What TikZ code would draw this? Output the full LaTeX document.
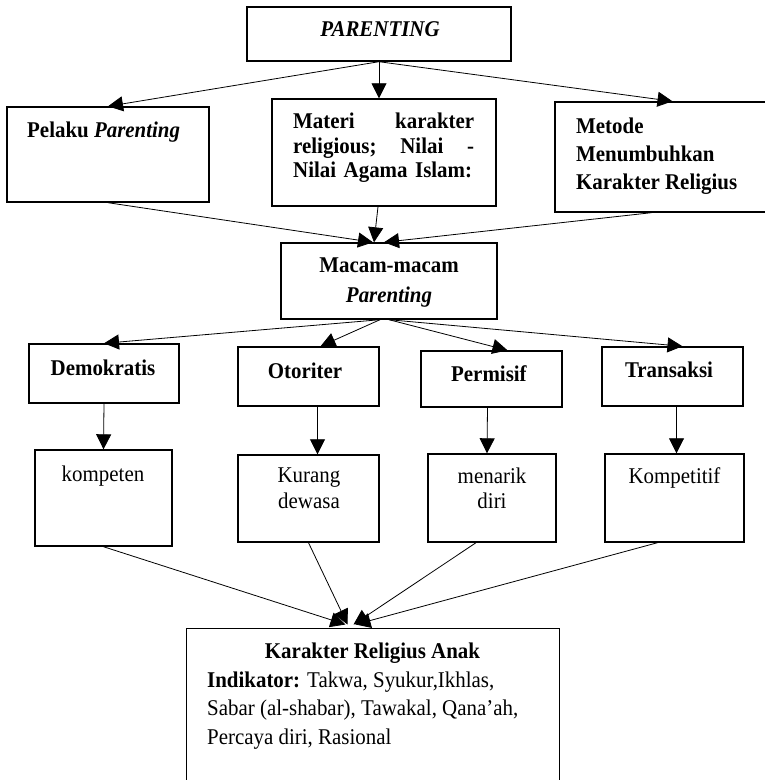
\documentclass[tikz,border=0pt]{standalone}
\usepackage{fontspec}
\setmainfont{Liberation Serif}[FakeStretch=0.93]
\usepackage{tikz}
\usetikzlibrary{arrows.meta,calc}

\begin{document}
\begin{tikzpicture}[x=1pt,y=-1pt,
  box/.style={draw,line width=1.4pt,inner sep=0pt},
  txt/.style={inner sep=0pt,font=\fontsize{22.5}{28}\selectfont},
  arr/.style={line width=0.8pt,-{Triangle[length=15pt,width=15pt]}}]
\path[use as bounding box] (0,0) rectangle (764,780);
\node[box,minimum width=264,minimum height=54] (parenting) at (379,34) {};
\node[txt,anchor=base] (parentingtxt) at (380,36) {\textbf{\textit{PARENTING}}};
\node[box,minimum width=202,minimum height=95] (pelaku) at (108,154.5) {};
\node[txt,anchor=base west] (pelakutxt) at (27,137) {\textbf{Pelaku \textit{Parenting}}};
\node[box,minimum width=224,minimum height=107] (materi) at (384,152.5) {};
\node[txt,anchor=north west,text width=181,align=left,font=\fontsize{22.5}{24.7}\selectfont\bfseries] (materitxt) at (293,112.6)
  {Materi\hfill karakter\\religious;\hfill Nilai\hfill -\\Nilai Agama Islam:};
\node[box,minimum width=211,minimum height=110] (metode) at (660.5,157) {};
\node[txt,anchor=north west,align=left,font=\fontsize{22.5}{28}\selectfont\bfseries] (metodetxt) at (576,117.6)
  {Metode\\Menumbuhkan\\Karakter Religius};
\node[box,minimum width=216,minimum height=76] (macam) at (389,281) {};
\node[txt,anchor=north,align=center,font=\fontsize{22.5}{30}\selectfont\bfseries] (macamtxt) at (389,257.6)
  {Macam-macam\\\textit{Parenting}};
\node[box,minimum width=150,minimum height=59] (demokratis) at (104,373.5) {};
\node[txt,anchor=base] (demokratistxt) at (103,375) {\textbf{Demokratis}};
\node[box,minimum width=141,minimum height=59] (otoriter) at (308.5,376.5) {};
\node[txt,anchor=base] (otoritertxt) at (305,378) {\textbf{Otoriter}};
\node[box,minimum width=141,minimum height=56] (permisif) at (491.5,379) {};
\node[txt,anchor=base] (permisiftxt) at (489,381) {\textbf{Permisif}};
\node[box,minimum width=141,minimum height=59] (transaksi) at (672.5,376.5) {};
\node[txt,anchor=base] (transaksitxt) at (669,377) {\textbf{Transaksi}};
\node[box,minimum width=137,minimum height=96] (kompeten) at (103.5,498) {};
\node[txt,anchor=base] (kompetentxt) at (103,481) {kompeten};
\node[box,minimum width=141,minimum height=87] (kurang) at (308.5,498.5) {};
\node[txt,anchor=north,align=center,font=\fontsize{22.5}{25.5}\selectfont] (kurangtxt) at (309,467.6) {Kurang\\dewasa};
\node[box,minimum width=128,minimum height=88] (menarik) at (492,498) {};
\node[txt,anchor=north,align=center,font=\fontsize{22.5}{25.5}\selectfont] (menariktxt) at (492,467.6) {menarik\\diri};
\node[box,minimum width=139,minimum height=88] (kompetitif) at (674.5,498) {};
\node[txt,anchor=base] (kompetitiftxt) at (674.5,483) {Kompetitif};
\node[box,line width=1pt,minimum width=373,minimum height=164] (karakter) at (372.5,710) {};
\node[txt,anchor=base] (karaktertitle) at (372.5,658) {\textbf{Karakter Religius Anak}};
\node[txt,anchor=north west,align=left,font=\fontsize{22.5}{28.5}\selectfont] (karaktertxt) at (207,671.6)
  {\textbf{Indikator:} Takwa, Syukur,Ikhlas,\\Sabar (al-shabar), Tawakal, Qana’ah,\\Percaya diri, Rasional};
\draw[arr] (parenting.south) -- (pelaku.north);
\draw[arr] (parenting.south) -- (parenting.south |- materi.north);
\draw[arr] (parenting.south) -- ($(metode.north)+(12,0)$);
\draw[arr] (pelaku.south) -- ($(macam.north)+(-16,0)$);
\draw[arr] ($(materi.south)+(-6,0)$) -- ($(macam.north)+(-15,0)$);
\draw[arr] ($(metode.south)+(-9,0)$) -- ($(macam.north)+(-5,0)$);
\draw[arr] ($(macam.south)+(-9,0)$) -- (demokratis.north);
\draw[arr] ($(macam.south)+(-9,0)$) -- ($(otoriter.north)+(12,0)$);
\draw[arr] (macam.south) -- ($(permisif.north)+(16,0)$);
\draw[arr] (macam.south) -- ($(transaksi.north)+(10,0)$);
\draw[arr] (demokratis.south) -- (kompeten.north);
\draw[arr] ($(otoriter.south)+(9,0)$) -- ($(kurang.north)+(9,0)$);
\draw[arr] ($(permisif.south)+(-4,0)$) -- ($(menarik.north)+(-5,0)$);
\draw[arr] ($(transaksi.south)+(4,0)$) -- ($(kompetitif.north)+(2,0)$);
\draw[arr] (kompeten.south) -- ($(karakter.north)+(-27,-3)$);
\draw[arr] (kurang.south) -- ($(karakter.north)+(-25,-3)$);
\draw[arr] ($(menarik.south)+(-16,0)$) -- ($(karakter.north)+(-19,-3)$);
\draw[arr] ($(kompetitif.south)+(-17,0)$) -- ($(karakter.north)+(-17,-3)$);
\end{tikzpicture}
\end{document}
